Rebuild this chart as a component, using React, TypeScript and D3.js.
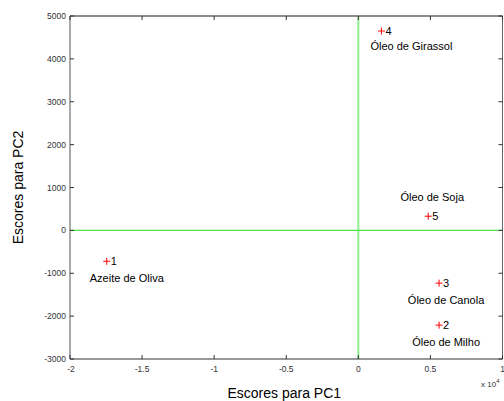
import React from 'react';
import * as d3 from 'd3';

// PCA scores
const ids = ['1', '2', '3', '4', '5'];
const names = ['Azeite de Oliva', 'Óleo de Milho', 'Óleo de Canola', 'Óleo de Girassol', 'Óleo de Soja'];
const pc1 = [-17450, 5600, 5600, 1600, 4850];
const pc2 = [-720, -2210, -1230, 4650, 330];

const xTicks = [-2, -1.5, -1, -0.5, 0, 0.5, 1];
const yTicks = [5000, 4000, 3000, 2000, 1000, 0, -1000, -2000, -3000];

// label offsets (dx, dy) relative to each marker
const labelOffsets: [number, number][] = [[20, 21], [7, 21], [7, 21], [30, 19], [4, -15]];

const W = 504;
const H = 401;
const m = { left: 70, right: 1, top: 16, bottom: 42 };

export default function App() {
  const x = d3.scaleLinear().domain([-2e4, 1e4]).range([m.left, W - m.right - 0.5]);
  const y = d3.scaleLinear().domain([-3000, 5000]).range([H - m.bottom, m.top]);
  const x0 = x.range()[0];
  const x1 = x.range()[1];
  const y0 = y.range()[0];
  const y1 = y.range()[1];
  const font = 'Arial, "Liberation Sans", sans-serif';
  const tk = 4;

  return (
    <svg width={W} height={H} style={{ position: 'absolute', left: 0, top: 0, background: '#fff' }}>
      {/* zero lines */}
      <line x1={x(0)} x2={x(0)} y1={y1} y2={y0} stroke="#8ef08e" strokeWidth={2} />
      <line x1={x0} x2={x1} y1={y(0)} y2={y(0)} stroke="#4fe04f" strokeWidth={1.2} />

      {/* box */}
      <line x1={x0} x2={x1} y1={y1} y2={y1} stroke="#8c8c8c" strokeWidth={2} />
      <line x1={x0} x2={x1} y1={y0} y2={y0} stroke="#333" strokeWidth={1} />
      <line x1={x0} x2={x0} y1={y1} y2={y0} stroke="#555" strokeWidth={1} />
      <line x1={x1} x2={x1} y1={y1} y2={y0} stroke="#666" strokeWidth={1} />

      {xTicks.map(t => (
        <g key={'x' + t}>
          <line x1={x(t * 1e4)} x2={x(t * 1e4)} y1={y0} y2={y0 - tk} stroke="#333" />
          <line x1={x(t * 1e4)} x2={x(t * 1e4)} y1={y1} y2={y1 + tk} stroke="#333" />
          <text x={x(t * 1e4) - (t === -2 ? -1 : 0)} y={y0 + 13} fontSize={8.5} fontFamily={font} fill="#333" textAnchor="middle">
            {t}
          </text>
        </g>
      ))}
      {yTicks.map(t => (
        <g key={'y' + t}>
          <line x1={x0} x2={x0 + tk} y1={y(t)} y2={y(t)} stroke="#333" />
          <line x1={x1} x2={x1 - tk} y1={y(t)} y2={y(t)} stroke="#333" />
          <text x={x0 - 4} y={y(t) + 3} fontSize={8.5} fontFamily={font} fill="#333" textAnchor="end">
            {t}
          </text>
        </g>
      ))}
      <text x={481} y={387} fontSize={8} fontFamily={font} fill="#333">
        x 10<tspan dy={-4} fontSize={6}>4</tspan>
      </text>

      {/* points */}
      {ids.map((id, i) => {
        const px = x(pc1[i]);
        const py = y(pc2[i]);
        const [dx, dy] = labelOffsets[i];
        return (
          <g key={id}>
            <path d={`M${px - 3.5},${py}H${px + 3.5}M${px},${py - 3.5}V${py + 3.5}`} stroke="#f00" strokeWidth={1} />
            <text x={px + 4} y={py + 4} fontSize={11} fontFamily={font} fill="#000">{id}</text>
            <text x={px + dx} y={py + dy} fontSize={11} fontFamily={font} fill="#000" textAnchor="middle">
              {names[i]}
            </text>
          </g>
        );
      })}

      {/* axis titles */}
      <text x={(x0 + x1) / 2 - 2} y={H - 3} fontSize={14} fontFamily={font} fill="#000" textAnchor="middle">
        Escores para PC1
      </text>
      <text
        transform={`translate(23, ${(y0 + y1) / 2}) rotate(-90)`}
        fontSize={14}
        fontFamily={font}
        fill="#000"
        textAnchor="middle"
      >
        Escores para PC2
      </text>
    </svg>
  );
}
